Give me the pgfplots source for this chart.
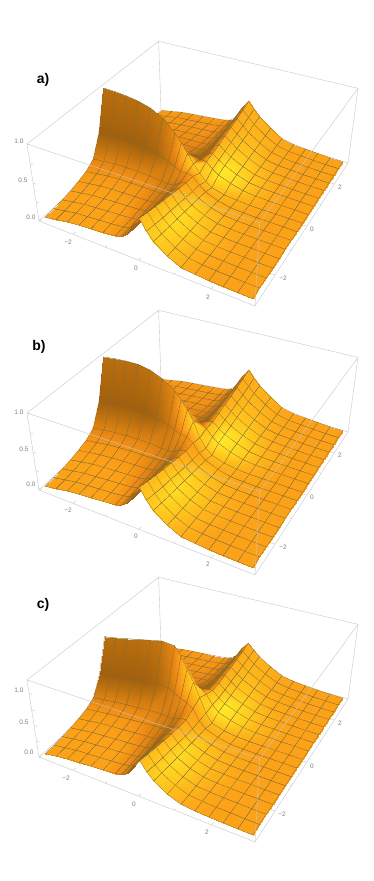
\documentclass[border=0pt]{standalone}
\usepackage{pgfplots}
\usepackage{pgfplotstable}
\usepackage{fontspec}
\setmainfont{Liberation Sans}
\pgfplotsset{compat=1.18}
\definecolor{boxc}{RGB}{198,198,198}
\definecolor{meshc}{RGB}{135,110,50}
\definecolor{tickc}{RGB}{125,125,125}
% x y: plane coordinates; a b c: heights of panels a), b), c); k: lit shade of the surface
\pgfplotstableread{
x y a b c k
-3 3 .015 .015 .015 .56
-3 2.625 .025 .025 .025 .55
-3 2.25 .039 .039 .039 .54
-3 1.875 .059 .059 .059 .52
-3 1.5 .088 .088 .088 .5
-3 1.125 .128 .128 .128 .48
-3 .75 .206 .206 .206 .46
-3 .375 .494 .494 .494 .42
-3 0 1.0 1.0 1.0 .3
-3 -.375 .494 .494 .494 .2
-3 -.75 .206 .206 .206 .45
-3 -1.125 .128 .128 .128 .55
-3 -1.5 .088 .088 .088 .58
-3 -1.875 .059 .059 .059 .6
-3 -2.25 .039 .039 .039 .6
-3 -2.625 .025 .025 .025 .6
-3 -3 .015 .015 .015 .6
-2.625 3 .045 .045 .045 .56
-2.625 2.625 .053 .053 .053 .55
-2.625 2.25 .066 .067 .067 .54
-2.625 1.875 .084 .085 .086 .52
-2.625 1.5 .112 .114 .114 .5
-2.625 1.125 .149 .152 .154 .48
-2.625 .75 .223 .228 .23 .46
-2.625 .375 .504 .516 .521 .42
-2.625 0 .995 1.02 1.03 .3
-2.625 -.375 .504 .516 .521 .2
-2.625 -.75 .223 .228 .23 .45
-2.625 -1.125 .149 .152 .154 .55
-2.625 -1.5 .112 .114 .114 .58
-2.625 -1.875 .084 .085 .086 .6
-2.625 -2.25 .066 .067 .067 .6
-2.625 -2.625 .053 .053 .053 .6
-2.625 -3 .045 .045 .045 .6
-2.25 3 .075 .075 .075 .56
-2.25 2.625 .082 .082 .083 .55
-2.25 2.25 .092 .094 .095 .54
-2.25 1.875 .109 .112 .114 .52
-2.25 1.5 .134 .138 .142 .5
-2.25 1.125 .171 .177 .181 .48
-2.25 .75 .238 .248 .256 .46
-2.25 .375 .508 .533 .552 .42
-2.25 0 .98 1.03 1.07 .3
-2.25 -.375 .508 .533 .552 .2
-2.25 -.75 .238 .248 .256 .45
-2.25 -1.125 .171 .177 .181 .55
-2.25 -1.5 .134 .138 .142 .58
-2.25 -1.875 .109 .112 .114 .6
-2.25 -2.25 .092 .094 .095 .6
-2.25 -2.625 .082 .082 .083 .6
-2.25 -3 .075 .075 .075 .6
-1.875 3 .09 .09 .091 .56
-1.875 2.625 .095 .096 .098 .55
-1.875 2.25 .106 .108 .11 .54
-1.875 1.875 .12 .124 .128 .52
-1.875 1.5 .144 .15 .157 .5
-1.875 1.125 .179 .188 .197 .48
-1.875 .75 .242 .257 .273 .46
-1.875 .375 .502 .539 .578 .42
-1.875 0 .955 1.03 1.11 .3
-1.875 -.375 .502 .539 .578 .2
-1.875 -.75 .242 .257 .273 .45
-1.875 -1.125 .179 .188 .197 .55
-1.875 -1.5 .144 .15 .157 .58
-1.875 -1.875 .12 .124 .128 .6
-1.875 -2.25 .106 .108 .11 .6
-1.875 -2.625 .095 .096 .098 .6
-1.875 -3 .09 .09 .091 .6
-1.5 3 .105 .105 .106 .56
-1.5 2.625 .109 .11 .112 .55
-1.5 2.25 .117 .12 .125 .54
-1.5 1.875 .131 .135 .143 .52
-1.5 1.5 .153 .16 .172 .5
-1.5 1.125 .184 .195 .213 .48
-1.5 .75 .242 .26 .29 .46
-1.5 .375 .486 .53 .604 .42
-1.5 0 .91 1.0 1.15 .32
-1.5 -.375 .486 .53 .604 .2
-1.5 -.75 .242 .26 .29 .45
-1.5 -1.125 .184 .195 .213 .54
-1.5 -1.5 .153 .16 .172 .57
-1.5 -1.875 .131 .135 .143 .59
-1.5 -2.25 .117 .12 .125 .6
-1.5 -2.625 .109 .11 .112 .6
-1.5 -3 .105 .105 .106 .6
-1.125 3 .119 .12 .121 .56
-1.125 2.625 .121 .123 .127 .55
-1.125 2.25 .129 .132 .14 .54
-1.125 1.875 .139 .145 .158 .52
-1.125 1.5 .158 .166 .187 .5
-1.125 1.125 .184 .198 .229 .48
-1.125 .75 .233 .255 .307 .45
-1.125 .375 .448 .502 .629 .38
-1.125 0 .82 .93 1.19 .36
-1.125 -.375 .448 .502 .629 .24
-1.125 -.75 .233 .255 .307 .45
-1.125 -1.125 .184 .198 .229 .52
-1.125 -1.5 .158 .166 .187 .55
-1.125 -1.875 .139 .145 .158 .58
-1.125 -2.25 .129 .132 .14 .6
-1.125 -2.625 .121 .123 .127 .6
-1.125 -3 .119 .12 .121 .6
-.75 3 .138 .139 .141 .55
-.75 2.625 .138 .14 .146 .52
-.75 2.25 .141 .146 .156 .5
-.75 1.875 .148 .155 .173 .48
-.75 1.5 .161 .173 .201 .46
-.75 1.125 .18 .198 .24 .42
-.75 .75 .214 .244 .314 .35
-.75 .375 .382 .456 .627 .3
-.75 0 .671 .821 1.171 .48
-.75 -.375 .382 .456 .627 .35
-.75 -.75 .214 .244 .314 .42
-.75 -1.125 .18 .198 .24 .44
-.75 -1.5 .161 .173 .201 .46
-.75 -1.875 .148 .155 .173 .48
-.75 -2.25 .141 .146 .156 .5
-.75 -2.625 .138 .14 .146 .52
-.75 -3 .138 .139 .141 .54
-.56 3 .163 .164 .165 .4
-.56 2.625 .159 .162 .166 .4
-.56 2.25 .159 .164 .173 .4
-.56 1.875 .161 .169 .185 .4
-.56 1.5 .169 .182 .206 .38
-.56 1.125 .182 .201 .239 .35
-.56 .75 .206 .238 .3 .3
-.56 .375 .338 .417 .569 .25
-.56 0 .564 .724 1.034 .62
-.56 -.375 .338 .417 .569 .42
-.56 -.75 .206 .238 .3 .4
-.56 -1.125 .182 .201 .239 .4
-.56 -1.5 .169 .182 .206 .4
-.56 -1.875 .161 .169 .185 .4
-.56 -2.25 .159 .164 .173 .42
-.56 -2.625 .159 .162 .166 .42
-.56 -3 .163 .164 .165 .42
-.375 3 .232 .233 .234 .25
-.375 2.625 .22 .223 .227 .25
-.375 2.25 .211 .216 .224 .25
-.375 1.875 .206 .214 .227 .25
-.375 1.5 .203 .217 .237 .24
-.375 1.125 .205 .225 .255 .22
-.375 .75 .215 .249 .299 .2
-.375 .375 .303 .386 .509 .18
-.375 0 .445 .615 .865 .75
-.375 -.375 .303 .386 .509 .5
-.375 -.75 .215 .249 .299 .35
-.375 -1.125 .205 .225 .255 .28
-.375 -1.5 .203 .217 .237 .22
-.375 -1.875 .206 .214 .227 .2
-.375 -2.25 .211 .216 .224 .2
-.375 -2.625 .22 .223 .227 .2
-.375 -3 .232 .233 .234 .2
-.19 3 .392 .392 .393 .3
-.19 2.625 .365 .367 .37 .3
-.19 2.25 .339 .344 .35 .3
-.19 1.875 .319 .327 .337 .28
-.19 1.5 .301 .313 .329 .28
-.19 1.125 .283 .301 .325 .26
-.19 .75 .273 .303 .343 .24
-.19 .375 .303 .377 .475 .22
-.19 0 .335 .485 .685 .85
-.19 -.375 .303 .377 .475 .52
-.19 -.75 .273 .303 .343 .4
-.19 -1.125 .283 .301 .325 .34
-.19 -1.5 .301 .313 .329 .3
-.19 -1.875 .319 .327 .337 .28
-.19 -2.25 .339 .344 .35 .26
-.19 -2.625 .365 .367 .37 .26
-.19 -3 .392 .392 .393 .26
0 3 .501 .501 .502 .65
0 2.625 .463 .464 .466 .65
0 2.25 .425 .427 .433 .65
0 1.875 .394 .397 .406 .65
0 1.5 .364 .369 .384 .68
0 1.125 .332 .339 .36 .7
0 .75 .306 .318 .354 .72
0 .375 .288 .318 .406 .75
0 0 .23 .29 .47 .8
0 -.375 .288 .318 .406 .6
0 -.75 .306 .318 .354 .62
0 -1.125 .332 .339 .36 .66
0 -1.5 .364 .369 .384 .7
0 -1.875 .394 .397 .406 .72
0 -2.25 .425 .427 .433 .72
0 -2.625 .463 .464 .466 .72
0 -3 .501 .501 .502 .72
.19 3 .411 .411 .411 .66
.19 2.625 .379 .379 .38 .67
.19 2.25 .347 .348 .35 .68
.19 1.875 .321 .323 .326 .7
.19 1.5 .295 .297 .303 .73
.19 1.125 .266 .27 .278 .78
.19 .75 .241 .247 .261 .86
.19 .375 .213 .228 .262 .88
.19 0 .141 .171 .241 .78
.19 -.375 .193 .208 .242 .62
.19 -.75 .214 .22 .234 .68
.19 -1.125 .235 .239 .247 .75
.19 -1.5 .26 .262 .268 .8
.19 -1.875 .285 .287 .293 .82
.19 -2.25 .305 .306 .308 .82
.19 -2.625 .333 .333 .334 .8
.19 -3 .361 .361 .361 .78
.375 3 .325 .325 .325 .68
.375 2.625 .3 .3 .3 .7
.375 2.25 .275 .275 .275 .72
.375 1.875 .253 .254 .254 .75
.375 1.5 .232 .234 .234 .78
.375 1.125 .208 .21 .212 .85
.375 .75 .186 .19 .192 1
.375 .375 .155 .164 .169 1
.375 0 .08 .1 .11 .75
.375 -.375 .129 .138 .143 .66
.375 -.75 .15 .154 .156 .76
.375 -1.125 .167 .169 .171 .85
.375 -1.5 .186 .188 .188 .9
.375 -1.875 .203 .204 .204 .92
.375 -2.25 .22 .22 .22 .9
.375 -2.625 .24 .24 .24 .86
.375 -3 .26 .26 .26 .82
.75 3 .2 .2 .2 .66
.75 2.625 .184 .184 .184 .67
.75 2.25 .169 .169 .169 .7
.75 1.875 .155 .156 .156 .74
.75 1.5 .142 .142 .142 .78
.75 1.125 .126 .128 .128 .85
.75 .75 .112 .114 .114 .92
.75 .375 .09 .095 .095 .9
.75 0 .035 .045 .045 .72
.75 -.375 .062 .067 .067 .66
.75 -.75 .074 .076 .076 .72
.75 -1.125 .083 .085 .085 .78
.75 -1.5 .093 .093 .093 .8
.75 -1.875 .101 .102 .102 .82
.75 -2.25 .11 .11 .11 .8
.75 -2.625 .12 .12 .12 .76
.75 -3 .13 .13 .13 .74
1.125 3 .1 .1 .1 .62
1.125 2.625 .092 .092 .092 .63
1.125 2.25 .084 .084 .084 .65
1.125 1.875 .077 .077 .077 .68
1.125 1.5 .07 .07 .07 .72
1.125 1.125 .062 .062 .062 .76
1.125 .75 .054 .054 .054 .8
1.125 .375 .045 .045 .045 .78
1.125 0 .018 .018 .018 .68
1.125 -.375 .025 .025 .025 .64
1.125 -.75 .029 .029 .029 .68
1.125 -1.125 .032 .032 .032 .7
1.125 -1.5 .035 .035 .035 .72
1.125 -1.875 .039 .039 .039 .72
1.125 -2.25 .042 .042 .042 .7
1.125 -2.625 .046 .046 .046 .68
1.125 -3 .05 .05 .05 .66
1.5 3 .06 .06 .06 .61
1.5 2.625 .055 .055 .055 .61
1.5 2.25 .05 .05 .05 .62
1.5 1.875 .046 .046 .046 .63
1.5 1.5 .042 .042 .042 .65
1.5 1.125 .037 .037 .037 .68
1.5 .75 .032 .032 .032 .7
1.5 .375 .024 .024 .024 .7
1.5 0 .006 .006 .006 .64
1.5 -.375 .014 .014 .014 .62
1.5 -.75 .016 .016 .016 .64
1.5 -1.125 .019 .019 .019 .65
1.5 -1.5 .021 .021 .021 .66
1.5 -1.875 .023 .023 .023 .66
1.5 -2.25 .025 .025 .025 .64
1.5 -2.625 .028 .028 .028 .63
1.5 -3 .03 .03 .03 .62
1.875 3 .045 .045 .045 .6
1.875 2.625 .041 .041 .041 .6
1.875 2.25 .038 .038 .038 .6
1.875 1.875 .035 .035 .035 .61
1.875 1.5 .032 .032 .032 .62
1.875 1.125 .028 .028 .028 .63
1.875 .75 .024 .024 .024 .64
1.875 .375 .018 .018 .018 .64
1.875 0 .004 .004 .004 .62
1.875 -.375 .008 .008 .008 .6
1.875 -.75 .011 .011 .011 .61
1.875 -1.125 .012 .012 .012 .61
1.875 -1.5 .014 .014 .014 .62
1.875 -1.875 .015 .015 .015 .62
1.875 -2.25 .017 .017 .017 .61
1.875 -2.625 .018 .018 .018 .6
1.875 -3 .02 .02 .02 .6
2.25 3 .03 .03 .03 .6
2.25 2.625 .028 .028 .028 .6
2.25 2.25 .025 .025 .025 .6
2.25 1.875 .023 .023 .023 .6
2.25 1.5 .021 .021 .021 .6
2.25 1.125 .019 .019 .019 .6
2.25 .75 .016 .016 .016 .6
2.25 .375 .012 .012 .012 .6
2.25 0 .003 .003 .003 .6
2.25 -.375 .006 .006 .006 .6
2.25 -.75 .008 .008 .008 .6
2.25 -1.125 .009 .009 .009 .6
2.25 -1.5 .011 .011 .011 .6
2.25 -1.875 .012 .012 .012 .6
2.25 -2.25 .013 .013 .013 .6
2.25 -2.625 .014 .014 .014 .6
2.25 -3 .015 .015 .015 .6
2.625 3 .02 .02 .02 .6
2.625 2.625 .018 .018 .018 .6
2.625 2.25 .017 .017 .017 .6
2.625 1.875 .015 .015 .015 .6
2.625 1.5 .014 .014 .014 .6
2.625 1.125 .012 .012 .012 .6
2.625 .75 .011 .011 .011 .6
2.625 .375 .008 .008 .008 .6
2.625 0 .002 .002 .002 .6
2.625 -.375 .004 .004 .004 .6
2.625 -.75 .005 .005 .005 .6
2.625 -1.125 .006 .006 .006 .6
2.625 -1.5 .007 .007 .007 .6
2.625 -1.875 .008 .008 .008 .6
2.625 -2.25 .008 .008 .008 .6
2.625 -2.625 .009 .009 .009 .6
2.625 -3 .01 .01 .01 .6
3 3 .015 .015 .015 .6
3 2.625 .014 .014 .014 .6
3 2.25 .013 .013 .013 .6
3 1.875 .012 .012 .012 .6
3 1.5 .011 .011 .011 .6
3 1.125 .009 .009 .009 .6
3 .75 .008 .008 .008 .6
3 .375 .006 .006 .006 .6
3 0 .001 .001 .001 .6
3 -.375 .002 .002 .002 .6
3 -.75 .003 .003 .003 .6
3 -1.125 .004 .004 .004 .6
3 -1.5 .004 .004 .004 .6
3 -1.875 .005 .005 .005 .6
3 -2.25 .005 .005 .005 .6
3 -2.625 .006 .006 .006 .6
3 -3 .006 .006 .006 .6
}\surfdata
% perspective of the box: s,t,h run 0..1 along x, y and z of the box
\newcommand\seg[7]{\addplot[draw=#7] table[row sep=\\,
  x expr={pu(\thisrow{s},\thisrow{t},\thisrow{h})},
  y expr={pv(\thisrow{s},\thisrow{t},\thisrow{h})+\off}]
  {s t h\\ #1 #2 #3\\ #4 #5 #6\\};}
\newcommand\surfplot[2]{\addplot[surf,shader=faceted interp,faceted color=meshc,line width=.25pt,
  point meta=explicit,point meta min=0,point meta max=1,mesh/rows=20,mesh/cols=17]
  table[x expr={pu(sv(\thisrow{x}),sv(\thisrow{y}),(\thisrow{#1}+0.02)/#2)},
        y expr={pv(sv(\thisrow{x}),sv(\thisrow{y}),(\thisrow{#1}+0.02)/#2)+\off},
        meta=k] {\surfdata};}
\newcommand\backbox{%
  \seg{0}{0}{0}{0}{1}{0}{boxc}\seg{0}{1}{0}{1}{1}{0}{boxc}\seg{0}{1}{0}{0}{1}{1}{boxc}
  \seg{0}{0}{1}{0}{1}{1}{boxc}\seg{0}{1}{1}{1}{1}{1}{boxc}\seg{0}{0}{0}{0}{0}{1}{boxc}
  \seg{1}{1}{0}{1}{1}{1}{boxc}\seg{0}{0}{0}{1}{0}{0}{boxc}\seg{1}{0}{0}{1}{1}{0}{boxc}
  \seg{.179}{0}{0}{.179}{.018}{0}{boxc}\seg{.34}{0}{0}{.34}{.01}{0}{boxc}
  \seg{.5}{0}{0}{.5}{.018}{0}{boxc}\seg{.66}{0}{0}{.66}{.01}{0}{boxc}\seg{.821}{0}{0}{.821}{.018}{0}{boxc}
  \seg{1}{.179}{0}{.982}{.179}{0}{boxc}\seg{1}{.34}{0}{.99}{.34}{0}{boxc}
  \seg{1}{.5}{0}{.982}{.5}{0}{boxc}\seg{1}{.66}{0}{.99}{.66}{0}{boxc}\seg{1}{.821}{0}{.982}{.821}{0}{boxc}}
\newcommand\frontbox{%
  \seg{1}{0}{0}{1}{0}{1}{boxc}\seg{0}{0}{1}{1}{0}{1}{boxc}\seg{1}{0}{1}{1}{1}{1}{boxc}}
\newcommand\ztick[1]{\seg{0}{0}{#1}{.015}{0}{#1}{boxc}}
\newcommand\lab[3]{\node[text=tickc,font=\fontsize{6.5}{7}\selectfont,inner sep=0pt] at (axis cs:#1,#2) {#3};}
\newcommand\pan[3]{\node[font=\fontsize{14}{15}\selectfont\bfseries,inner sep=0pt] at (axis cs:#1,#2) {#3};}
\begin{document}
\begin{tikzpicture}
\path[use as bounding box] (0,0) rectangle (374pt,881pt);
\begin{axis}[at={(0,0)},anchor=south west,scale only axis,width=374pt,height=881pt,
  xmin=0,xmax=374,ymin=0,ymax=881,y dir=reverse,hide axis,clip=false,
  line width=.4pt,
  colormap={lit}{rgb255(0pt)=(115,68,10) rgb255(30pt)=(185,110,15) rgb255(50pt)=(240,140,20)
    rgb255(60pt)=(252,162,24) rgb255(80pt)=(255,200,30) rgb255(100pt)=(255,232,40)},
  declare function={sv(\x)=(\x+3.12)/6.24;
    pw(\s,\t,\h)=1-0.1404*\s+0.2249*\t-0.069*\h;
    pu(\s,\t,\h)=(180.2*\s+158.2*\t-13.86*\h+39)/pw(\s,\t,\h);
    pv(\s,\t,\h)=(42*\s-86.3*\t-87*\h+221)/pw(\s,\t,\h);}]
% panel a
\def\off{0}
\backbox \ztick{.02}\ztick{.265}\ztick{.51}\ztick{.755}\ztick{1}
\surfplot{a}{1.02}
\frontbox
\pan{43}{80}{a)}
\lab{68}{242}{−2}\lab{136}{268}{0}\lab{208}{297}{2}
\lab{283}{278}{−2}\lab{312}{229}{0}\lab{340}{187}{2}
\lab{19}{141}{1.0}\lab{23}{180}{0.5}\lab{31}{217}{0.0}
% panel b
\def\off{269}
\backbox \ztick{.02}\ztick{.265}\ztick{.51}\ztick{.755}\ztick{1}
\surfplot{b}{1.02}
\frontbox
\pan{39}{347}{b)}
\lab{68}{510}{−2}\lab{136}{536}{0}\lab{208}{564}{2}
\lab{283}{547}{−2}\lab{312}{497}{0}\lab{340}{455}{2}
\lab{19}{412}{1.0}\lab{24}{449}{0.5}\lab{31}{484}{0.0}
% panel c
\def\off{536}
\backbox \ztick{.016}\ztick{.221}\ztick{.426}\ztick{.631}\ztick{.836}
\surfplot{c}{1.22}
\frontbox
\pan{43}{605}{c)}
\lab{66}{778}{−2}\lab{134}{804}{0}\lab{207}{832}{2}
\lab{282}{814}{−2}\lab{312}{766}{0}\lab{340}{723}{2}
\lab{19}{690}{1.0}\lab{24}{722}{0.5}\lab{29}{752}{0.0}
\end{axis}
\end{tikzpicture}
\end{document}
